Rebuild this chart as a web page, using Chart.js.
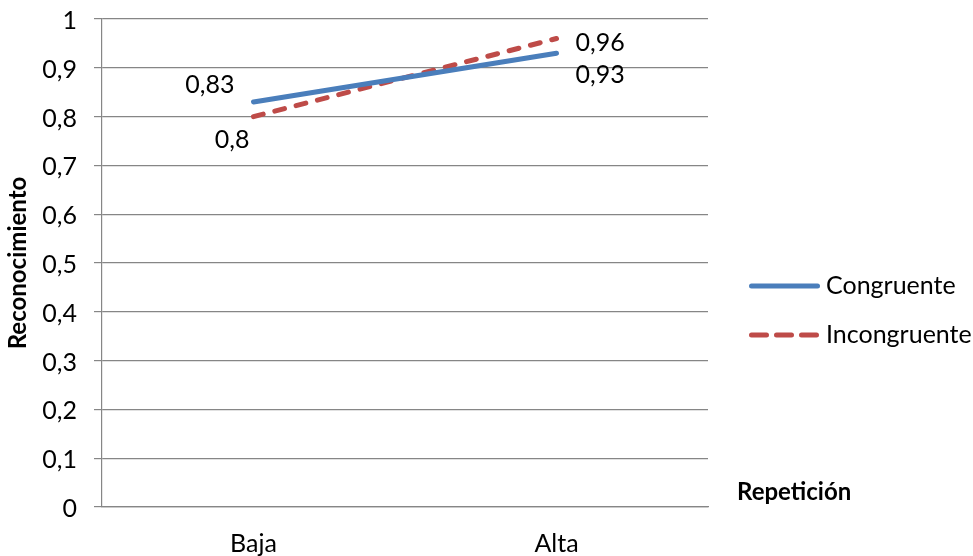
<!DOCTYPE html>
<html>
<head>
<meta charset="utf-8">
<script src="https://cdn.jsdelivr.net/npm/chart.js@4.4.1/dist/chart.umd.min.js"></script>
<style>
  html, body { margin: 0; padding: 0; background: #fff; }
  #wrap { width: 973px; height: 556px; position: relative; }
</style>
</head>
<body>
<div id="wrap"><canvas id="chart"></canvas></div>
<script>
// Categories, series and tick labels
const categories = ['Baja', 'Alta'];
const congruente = [0.83, 0.93];
const incongruente = [0.80, 0.96];
const seriesNames = ['Congruente', 'Incongruente'];
const yTickLabels = ['0', '0,1', '0,2', '0,3', '0,4', '0,5', '0,6', '0,7', '0,8', '0,9', '1'];
const yTitle = 'Reconocimiento';
const xTitle = 'Repetición';

const FONT = 'Lato, "Open Sans", sans-serif';
const FS = 25;
const BLUE = '#4a7ebb';
const RED = '#be4b48';
const GRID = '#868686';
const LINE_W = 5;

// Decimal comma formatting for the value labels
const fmt = v => String(v).replace('.', ',');

// Where each value label sits relative to its point (per dataset, per category)
const labelPlacement = [
  [{ dx: -19, dy: -17, align: 'right' }, { dx: 19, dy: 22, align: 'left' }],
  [{ dx: -4, dy: 23, align: 'right' }, { dx: 19, dy: 4.5, align: 'left' }]
];

// Value labels next to the line ends
const valueLabels = {
  id: 'valueLabels',
  afterDatasetsDraw(chart) {
    const ctx = chart.ctx;
    ctx.save();
    ctx.font = FS + 'px ' + FONT;
    ctx.fillStyle = '#000';
    ctx.textBaseline = 'middle';
    chart.data.datasets.forEach((ds, di) => {
      const meta = chart.getDatasetMeta(di);
      meta.data.forEach((pt, i) => {
        const p = labelPlacement[di][i];
        ctx.textAlign = p.align;
        ctx.fillText(fmt(ds.data[i]), pt.x + p.dx, pt.y + p.dy);
      });
    });
    ctx.restore();
  }
};

// Legend on the right and the horizontal-axis title beside the plot
const sideLegend = {
  id: 'sideLegend',
  afterDraw(chart) {
    const ctx = chart.ctx;
    const rows = [286, 335];
    const x0 = 749, x1 = 820, tx = 826;
    ctx.save();
    chart.data.datasets.forEach((ds, i) => {
      ctx.beginPath();
      ctx.strokeStyle = ds.borderColor;
      ctx.lineWidth = LINE_W;
      ctx.lineCap = 'round';
      ctx.setLineDash(ds.borderDash && ds.borderDash.length ? [15, 10] : []);
      ctx.moveTo(x0 + 2.5, rows[i]);
      ctx.lineTo(x1 - 2.5, rows[i]);
      ctx.stroke();
      ctx.setLineDash([]);
      ctx.font = FS + 'px ' + FONT;
      ctx.fillStyle = '#000';
      ctx.textAlign = 'left';
      ctx.textBaseline = 'middle';
      ctx.fillText(ds.label, tx, rows[i]);
    });
    ctx.font = 'bold 24px ' + FONT;
    ctx.textAlign = 'left';
    ctx.textBaseline = 'middle';
    ctx.fillText(xTitle, 737, 492);
    ctx.restore();
  }
};

new Chart(document.getElementById('chart'), {
  type: 'line',
  data: {
    labels: categories,
    datasets: [
      {
        label: seriesNames[0],
        data: congruente,
        borderColor: BLUE,
        backgroundColor: BLUE,
        borderWidth: LINE_W,
        borderCapStyle: 'round',
        pointRadius: 0,
        tension: 0
      },
      {
        label: seriesNames[1],
        data: incongruente,
        borderColor: RED,
        backgroundColor: RED,
        borderWidth: LINE_W,
        borderDash: [10, 12],
        borderCapStyle: 'round',
        pointRadius: 0,
        tension: 0
      }
    ]
  },
  options: {
    responsive: true,
    maintainAspectRatio: false,
    animation: false,
    layout: { padding: { top: 19, right: 265, bottom: 0, left: 0 } },
    plugins: {
      legend: { display: false },
      tooltip: { enabled: false }
    },
    scales: {
      x: {
        offset: true,
        grid: { display: false, drawTicks: false },
        border: { display: true, color: GRID, width: 1.2 },
        ticks: { color: '#000', font: { family: FONT, size: FS }, padding: 22 },
        afterFit: s => { s.height = 49; s.paddingLeft = 0; s.paddingRight = 0; }
      },
      y: {
        min: 0,
        max: 1,
        ticks: {
          stepSize: 0.1,
          color: '#000',
          font: { family: FONT, size: FS },
          padding: 17,
          labelOffset: 2,
          callback: (v, i) => yTickLabels[i]
        },
        grid: { color: GRID, lineWidth: 1.2, drawTicks: true, tickLength: 8, tickColor: GRID },
        border: { display: true, color: GRID, width: 1.2 },
        title: {
          display: true,
          text: yTitle,
          color: '#000',
          font: { family: FONT, size: 24, weight: 'bold' },
          padding: { top: 3.6, bottom: 0 }
        },
        afterFit: s => { s.width = 102; s.paddingTop = 0; s.paddingBottom = 0; }
      }
    }
  },
  plugins: [valueLabels, sideLegend]
});
</script>
</body>
</html>
